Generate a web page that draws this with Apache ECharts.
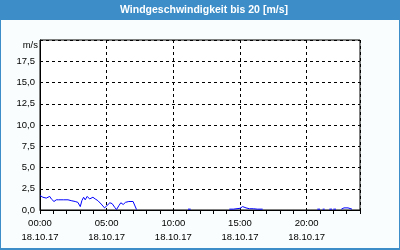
<!DOCTYPE html>
<html>
<head>
<meta charset="utf-8">
<script src="https://cdn.jsdelivr.net/npm/echarts@6/dist/echarts.min.js"></script>
<style>
html,body{margin:0;padding:0;background:#fafdfd;}
#c{width:400px;height:250px;}
</style>
</head>
<body>
<div id="c"></div>
<script>
var titleText = 'Windgeschwindigkeit bis 20 [m/s]';
var dateLabel = '18.10.17';
var unitLabel = 'm/s';
// hours since 00:00 and wind speed in m/s (null = gap)
var hours = [0,0.22,0.47,0.73,0.85,1.05,1.22,1.4,1.75,2.1,2.22,2.34,2.64,2.84,3.02,3.14,3.27,3.39,3.54,3.72,3.84,3.97,4.14,4.34,4.59,4.84,5.01,5.07,5.24,5.41,5.61,5.74,5.91,6.06,6.24,6.41,6.66,6.81,6.98,7.24,
  7.3,11.1,11.3,
  11.4,14.2,14.5,14.6,15.0,15.2,15.45,15.7,16.0,16.3,16.7,
  16.8,20.8,21.0,
  21.1,21.2,21.35,
  21.5,21.7,21.9,
  21.95,22.0,22.2,
  22.4,22.6,22.8,23.1,23.4];
var speeds = [1.7,1.5,1.4,1.6,1.3,1.0,1.2,1.2,1.2,1.2,1.0,1.1,1.0,0.9,0.4,1.1,1.5,1.2,1.6,1.3,1.5,1.5,1.3,1.1,0.7,0.25,0.5,0.65,0.85,0.75,0.3,0.05,0.5,0.85,0.65,0.9,1.0,1.2,1.0,0.05,
  null,0.1,0.1,
  null,0.1,0.1,0.2,0.2,0.4,0.25,0.15,0.15,0.1,0.1,
  null,0.1,0.1,
  null,0.1,0.1,
  null,0.1,0.1,
  null,0.1,0.1,
  null,0.1,0.25,0.25,0.1];
var yTicks = [0,2.5,5,7.5,10,12.5,15,17.5];

var data = hours.map(function(h,i){ return [h, speeds[i]]; });
var FONT = 'Liberation Sans';

var chart = echarts.init(document.getElementById('c'), null, {renderer:'canvas'});
chart.setOption({
  animation:false,
  backgroundColor:'#fafdfd',
  textStyle:{fontFamily:FONT},
  graphic:[
    {type:'rect', shape:{x:0,y:0,width:400,height:20}, style:{fill:'#3d8ec8'}, z:0},
    {type:'rect', shape:{x:0.5,y:0.5,width:399,height:248.5}, style:{fill:null, stroke:'#3d8ec8', lineWidth:1}, z:0},
    {type:'rect', shape:{x:0,y:248,width:400,height:2}, style:{fill:'#3d8ec8'}, z:0},
    {type:'text', x:204, y:10, style:{text:titleText, fill:'#ffffff', font:'bold 10.5px "Liberation Sans"', align:'center', verticalAlign:'middle'}, z:1},
    {type:'text', x:38, y:45, style:{text:unitLabel, fill:'#000', font:'9.5px "Liberation Sans"', align:'right', verticalAlign:'middle'}, z:1}
  ],
  grid:{left:40, top:40, right:40, bottom:40, show:true, backgroundColor:'#ffffff', borderColor:'#000', borderWidth:1},
  xAxis:{
    type:'value', min:0, max:24, interval:5,
    axisLine:{show:true, lineStyle:{color:'#000', width:1}},
    axisTick:{show:true, length:4, lineStyle:{color:'#000'}},
    minorTick:{show:true, splitNumber:5, length:4, lineStyle:{color:'#000'}},
    splitLine:{show:true, lineStyle:{color:'#000', type:[3,3], width:1}},
    axisLabel:{
      showMaxLabel:false, margin:7, fontSize:9.5, lineHeight:13.5, color:'#000', fontFamily:FONT,
      formatter:function(v){ if(v>=24) return ''; var h=(v<10?'0':'')+v; return h+':00\n'+dateLabel; }
    }
  },
  yAxis:{
    type:'value', min:0, max:20, interval:2.5,
    axisLine:{show:true, lineStyle:{color:'#000'}},
    axisTick:{show:false},
    splitLine:{show:true, lineStyle:{color:'#000', type:[3,3], width:1}},
    axisLabel:{
      margin:5, fontSize:9.5, color:'#000', fontFamily:FONT,
      formatter:function(v){ if(yTicks.indexOf(v)<0) return ''; return v.toFixed(1).replace('.',','); }
    }
  },
  series:[{
    type:'line', data:data, showSymbol:false, connectNulls:false,
    lineStyle:{color:'#0000ff', width:1}, z:5
  }]
});
</script>
</body>
</html>
